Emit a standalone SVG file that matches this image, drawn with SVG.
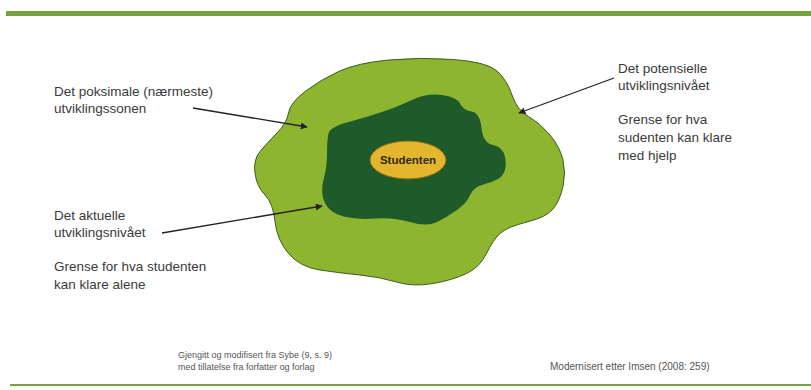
<svg xmlns="http://www.w3.org/2000/svg" width="811" height="390" viewBox="0 0 811 390">
<style>
.t{font-family:"Liberation Sans",Arial,sans-serif;font-size:13.5px;fill:#3a3a3a}
.s{font-family:"Liberation Sans",Arial,sans-serif;font-size:9px;fill:#555}
.c{stroke:#222;stroke-width:1.3;fill:none;marker-end:url(#ah)}
</style>
<defs>
<marker id="ah" viewBox="0 0 10 10" refX="9" refY="5" markerWidth="7" markerHeight="7" orient="auto" markerUnits="userSpaceOnUse">
<path d="M0,0 L10,5 L0,10 z" fill="#222"/>
</marker>
</defs>
<rect width="811" height="390" fill="#fff"/>
<rect x="6" y="11" width="805" height="5" fill="#77a33a"/>
<rect x="10" y="384" width="801" height="2" fill="#77a33a"/>
<g id="outer">
<path d="M288.5,113 Q290,103 305,91.5 Q320,80 338.5,71.5 Q357,63 388.5,60 Q420,57 453.5,59.5 Q487,62 497,71 Q507,80 512,95 Q517,110 528.5,116.5 Q540,123 550,135 Q560,147 563,160 Q566,173 563,186.5 Q560,200 553.5,208.5 Q547,217 527,222 Q507,227 500,233.5 Q493,240 486.5,253.5 Q480,267 466.5,273.5 Q453,280 433,283.5 Q413,287 396.5,282 Q380,277 360,275 Q340,273 320,270 Q300,267 288.5,253.5 Q277,240 275,221.5 Q273,203 265,195 Q257,187 255,173.5 Q253,160 260,151.5 Q267,143 277,133 Q287,123 288.5,113 Z" fill="#8db530" stroke="#3f5a1e" stroke-width="1"/>
</g>
<g id="inner">
<path d="M328.5,133.5 Q330,127 348.5,122 Q367,117 382,112 Q397,107 412,100 Q427,93 442,95 Q457,97 460,103.5 Q463,110 471.5,111.5 Q480,113 481.5,128 Q483,143 493,145 Q503,147 505,157 Q507,167 503.5,173.5 Q500,180 486.5,183.5 Q473,187 470,195 Q467,203 457,210 Q447,217 437,222 Q427,227 410,222 Q393,217 375,218.5 Q357,220 343.5,216.5 Q330,213 325,203 Q320,193 323.5,180 Q327,167 327,153.5 Q327,140 328.5,133.5 Z" fill="#1f5a2a"/>
</g>
<g id="student">
<ellipse cx="408" cy="160" rx="38" ry="19" fill="#e4b52f" stroke="#8a6a10" stroke-width="1"/>
<text x="408" y="164" text-anchor="middle" style="font-family:'Liberation Sans',Arial,sans-serif;font-size:11.5px;font-weight:bold;fill:#2a2a10">Studenten</text>
</g>
<g id="label-proximal">
<text class="t" x="54" y="96">Det poksimale (nærmeste)</text>
<text class="t" x="54" y="113">utviklingssonen</text>
</g>
<g id="label-potential">
<text class="t" x="618" y="73">Det potensielle</text>
<text class="t" x="618" y="90">utviklingsnivået</text>
<text class="t" x="618" y="124">Grense for hva</text>
<text class="t" x="618" y="142">sudenten kan klare</text>
<text class="t" x="618" y="160">med hjelp</text>
</g>
<g id="label-actual">
<text class="t" x="54" y="220">Det aktuelle</text>
<text class="t" x="54" y="237">utviklingsnivået</text>
<text class="t" x="54" y="271">Grense for hva studenten</text>
<text class="t" x="54" y="289">kan klare alene</text>
</g>
<g id="connectors">
<line class="c" x1="193" y1="108" x2="307" y2="127"/>
<line class="c" x1="614" y1="78" x2="519" y2="113"/>
<line class="c" x1="162" y1="233" x2="322" y2="206"/>
</g>
<g id="footer">
<text class="s" x="178" y="358">Gjengitt og modifisert fra Sybe (9, s. 9)</text>
<text class="s" x="178" y="370">med tillatelse fra forfatter og forlag</text>
<text class="s" x="550" y="370" style="font-size:10px">Modernisert etter Imsen (2008: 259)</text>
</g>
</svg>
